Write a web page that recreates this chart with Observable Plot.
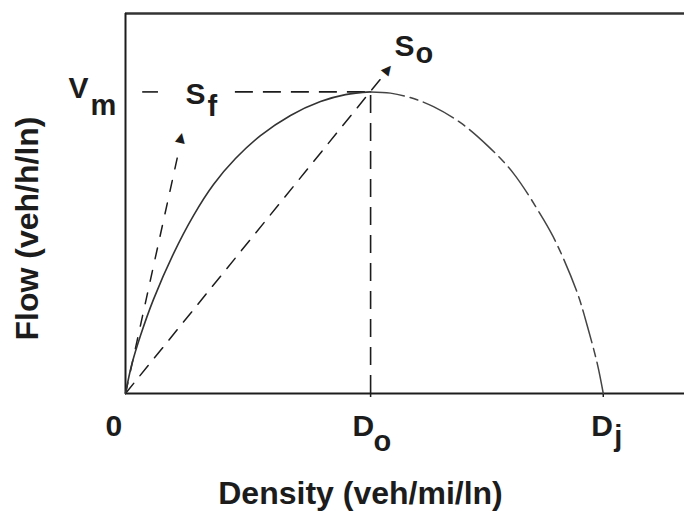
<!DOCTYPE html>
<html><head><meta charset="utf-8">
<script src="https://cdn.jsdelivr.net/npm/d3@7"></script>
<script src="https://cdn.jsdelivr.net/npm/@observablehq/plot@0.6"></script>
<style>body{margin:0;background:#fff;} svg{display:block;}</style>
</head><body><div id="chart"></div>
<script>
// Flow-density curve (Vm = 100, Dj = 100)
const densityPts = [0, 1.26, 3.14, 5.86, 10.05, 14.23, 18.42, 23.02, 28.25, 34.53, 40.81, 46.04, 51.3, 55.46, 60.28, 64.46, 70.11, 75.76, 81.2, 87.48, 90.41, 94.6, 96.69, 98.79, 100];
const flowPts    = [0, 9.3, 19.2, 31.2, 46.4, 59.0, 69.3, 77.9, 85.5, 92.2, 96.8, 99.1, 100, 99.6, 97.8, 95.1, 89.8, 82.2, 73.0, 57.7, 49.1, 33.2, 22.2, 9.6, 0];
const Do = 51.3, Dj = 100, Vm = 100;
const xTickValues = [0, Do, Dj];
const xTickMain = ["0", "D", "D"];
const xTickSub = ["", "o", "j"];
// tangent lines (start at origin)
const sfLineX = [0, 11.3], sfLineY = [0, 81.5];
const sfHeadX = 11.6, sfHeadY = 85.0;
const soLineX = [0, 54.0], soLineY = [0, 105.5];
const soHeadX = 55.0, soHeadY = 107.6;
// Vm dashed reference segments
const vmSegX1 = [3.6, 23.0], vmSegX2 = [6.9, Do];
const xLabel = "Density (veh/mi/ln)";
const yLabel = "Flow (veh/h/ln)";

const curve = densityPts.map((d, i) => ({x: d, y: flowPts[i]}));
const peakIdx = densityPts.indexOf(Do);
const curveLeft = curve.slice(0, peakIdx + 1);
const curveRight = curve.slice(peakIdx);
const xTicks = xTickValues.map((v, i) => ({x: v, main: xTickMain[i], sub: xTickSub[i]}));
const font = "Liberation Sans, Arial, Helvetica, sans-serif";
const ink = "#1c1c1c";
const bold = {fontWeight: "bold", fill: ink, textAnchor: "start", lineAnchor: "bottom"};

// per-label offsets for the x tick labels
const tickLabelMarks = [
  Plot.text([xTicks[0]], {x: "x", frameAnchor: "bottom", text: "main", dx: -20, dy: 42, fontSize: 30, ...bold}),
  Plot.text([xTicks[1]], {x: "x", frameAnchor: "bottom", text: "main", dx: -18, dy: 42, fontSize: 30, ...bold}),
  Plot.text([xTicks[1]], {x: "x", frameAnchor: "bottom", text: "sub", dx: 3, dy: 57, fontSize: 29, ...bold}),
  Plot.text([xTicks[2]], {x: "x", frameAnchor: "bottom", text: "main", dx: -12, dy: 42, fontSize: 30, ...bold}),
  Plot.text([xTicks[2]], {x: "x", frameAnchor: "bottom", text: "sub", dx: 11, dy: 52, fontSize: 29, ...bold})
];

const chart = Plot.plot({
  width: 684, height: 511,
  marginTop: 13, marginBottom: 118, marginLeft: 125, marginRight: 0,
  x: {domain: [0, 117], axis: null},
  y: {domain: [0, 126], axis: null},
  style: {fontFamily: font, background: "#fff"},
  marks: [
    // frame lines
    Plot.ruleY([126], {stroke: "#333", strokeWidth: 2.5}),
    Plot.ruleY([0], {stroke: ink, strokeWidth: 2}),
    Plot.ruleX([0], {stroke: ink, strokeWidth: 2}),
    Plot.ruleX([Do, Dj], {y1: 0, y2: 0, insetBottom: -4, stroke: ink, strokeWidth: 1.5}),
    // reference dashed lines
    Plot.ruleY(vmSegX1.map((v, i) => ({x1: v, x2: vmSegX2[i]})), {x1: "x1", x2: "x2", y: () => Vm, stroke: ink, strokeWidth: 1.6, strokeDasharray: "18,10"}),
    Plot.ruleX([Do], {y1: 0, y2: Vm, stroke: ink, strokeWidth: 1.6, strokeDasharray: "18,10"}),
    Plot.line(sfLineX.map((v, i) => ({x: v, y: sfLineY[i]})), {x: "x", y: "y", stroke: ink, strokeWidth: 1.5, strokeDasharray: "11,12"}),
    Plot.line(soLineX.map((v, i) => ({x: v, y: soLineY[i]})), {x: "x", y: "y", stroke: ink, strokeWidth: 1.5, strokeDasharray: "13,10"}),
    Plot.text([{x: sfHeadX, y: sfHeadY}], {x: "x", y: "y", text: () => "▲", fontSize: 13, rotate: 12, fill: ink, fontFamily: "DejaVu Sans"}),
    Plot.text([{x: soHeadX, y: soHeadY}], {x: "x", y: "y", text: () => "▲", fontSize: 13, rotate: 39, fill: ink, fontFamily: "DejaVu Sans"}),
    // flow-density curve
    Plot.line(curveLeft, {x: "x", y: "y", curve: "catmull-rom", stroke: "#333", strokeWidth: 1.6}),
    Plot.line(curveRight, {x: "x", y: "y", curve: "catmull-rom", stroke: "#444", strokeWidth: 1.5, strokeDasharray: "34,6,8,6"}),
    // x tick labels
    ...tickLabelMarks,
    // V_m label
    Plot.text([Vm], {y: d => d, frameAnchor: "left", text: () => "V", dx: -57, dy: 6, fontSize: 30, ...bold}),
    Plot.text([Vm], {y: d => d, frameAnchor: "left", text: () => "m", dx: -35, dy: 23, fontSize: 29, ...bold}),
    // S_f label
    Plot.text([Vm], {y: d => d, frameAnchor: "left", text: () => "S", dx: 60, dy: 12, fontSize: 30, ...bold}),
    Plot.text([Vm], {y: d => d, frameAnchor: "left", text: () => "f", dx: 82, dy: 24, fontSize: 29, ...bold}),
    // S_o label
    Plot.text([{x: Do, y: Vm}], {x: "x", y: "y", text: () => "S", dx: 24, dy: -36, fontSize: 30, ...bold}),
    Plot.text([{x: Do, y: Vm}], {x: "x", y: "y", text: () => "o", dx: 45, dy: -29, fontSize: 29, ...bold}),
    // axis titles
    Plot.text([xLabel], {frameAnchor: "bottom-left", text: d => d, dx: 235, dy: 110, fontSize: 32, ...bold, textAnchor: "middle"}),
    Plot.text([yLabel], {frameAnchor: "left", text: d => d, rotate: -90, dx: -88, dy: 25, fontSize: 32, ...bold, textAnchor: "middle"})
  ]
});
document.getElementById("chart").appendChild(chart);
</script>
</body></html>
